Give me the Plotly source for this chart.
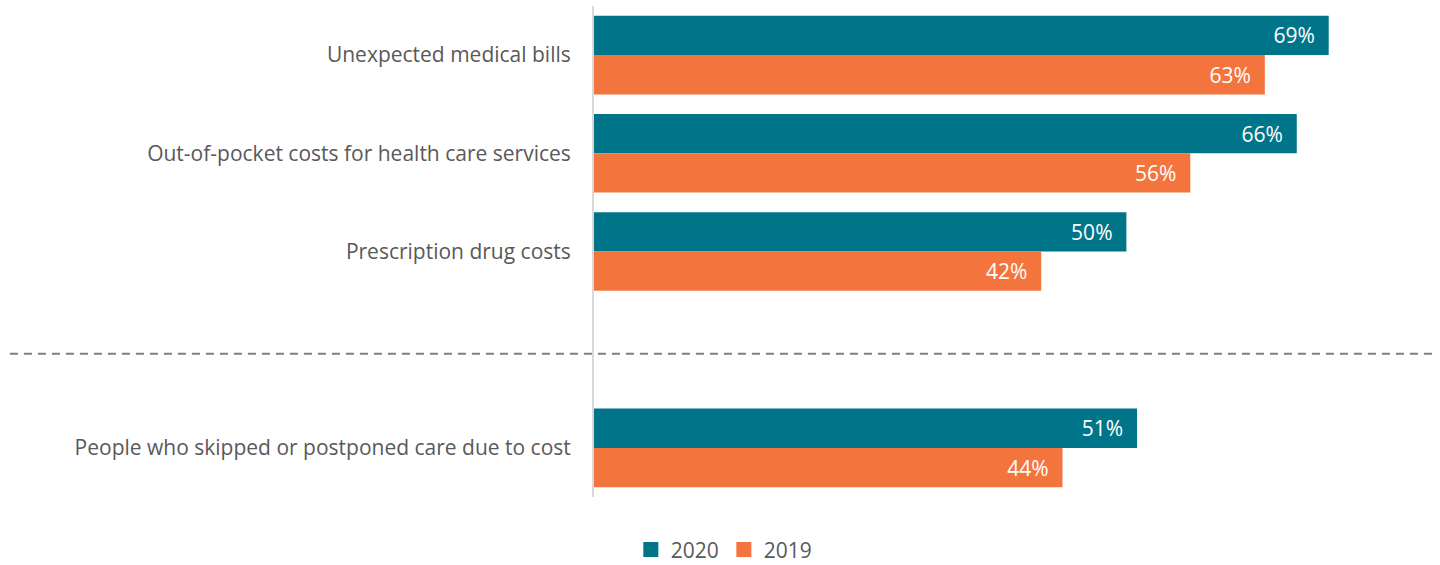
import plotly.graph_objects as go

# Categories (top to bottom); a blank spacer slot separates the last group
categories = [
    "Unexpected medical bills",
    "Out-of-pocket costs for health care services",
    "Prescription drug costs",
    "People who skipped or postponed care due to cost",
]
spacer = " "
category_order = categories[:3] + [spacer] + categories[3:]

values_2020 = [69, 66, 50, 51]
values_2019 = [63, 56, 42, 44]

teal = "#00758A"
orange = "#F4743E"
label_grey = "#595959"
font_family = "'Open Sans', sans-serif"

fig = go.Figure()
for name, vals, color in [("2020", values_2020, teal), ("2019", values_2019, orange)]:
    fig.add_trace(go.Bar(
        name=name,
        y=categories,
        x=vals,
        orientation="h",
        marker=dict(color=color, line=dict(width=0)),
        text=[f"{v}%\u00a0\u00a0" for v in vals],
        textposition="inside",
        insidetextanchor="end",
        textangle=0,
        textfont=dict(color="white", size=21, family=font_family),
        hoverinfo="skip",
        showlegend=False,
    ))
    # legend entry with a larger square swatch
    fig.add_trace(go.Scatter(
        name=name, x=[None], y=[None], mode="markers",
        marker=dict(symbol="square", size=15, color=color),
        showlegend=True, hoverinfo="skip",
    ))

# dashed divider running across the spacer slot
divider_y = category_order.index(spacer) + 0.04
fig.add_shape(
    type="line", xref="paper", yref="y",
    x0=-0.697, x1=1.0, y0=divider_y, y1=divider_y,
    line=dict(color="#7F7F7F", width=2, dash="8px,6px"),
)

fig.update_layout(
    width=1440, height=565,
    margin=dict(l=594, r=8, t=6, b=68),
    paper_bgcolor="white", plot_bgcolor="white",
    barmode="group", bargap=0.2, bargroupgap=0,
    showlegend=True,
    legend=dict(
        orientation="h", xref="container", yref="container",
        x=0.503, y=0.027, xanchor="center", yanchor="middle",
        font=dict(size=21, color=label_grey, family=font_family),
        itemwidth=30, traceorder="normal", tracegroupgap=0,
    ),
    xaxis=dict(range=[0, 78.7], visible=False, fixedrange=True),
    yaxis=dict(
        categoryorder="array", categoryarray=category_order,
        autorange="reversed",
        showline=True, linecolor="#D9D9D9", linewidth=2,
        showgrid=False, zeroline=False,
        ticks="", ticklabelstandoff=17,
        tickfont=dict(size=21, color=label_grey, family=font_family),
    ),
    font=dict(family=font_family),
)

fig.write_html("out.html")
